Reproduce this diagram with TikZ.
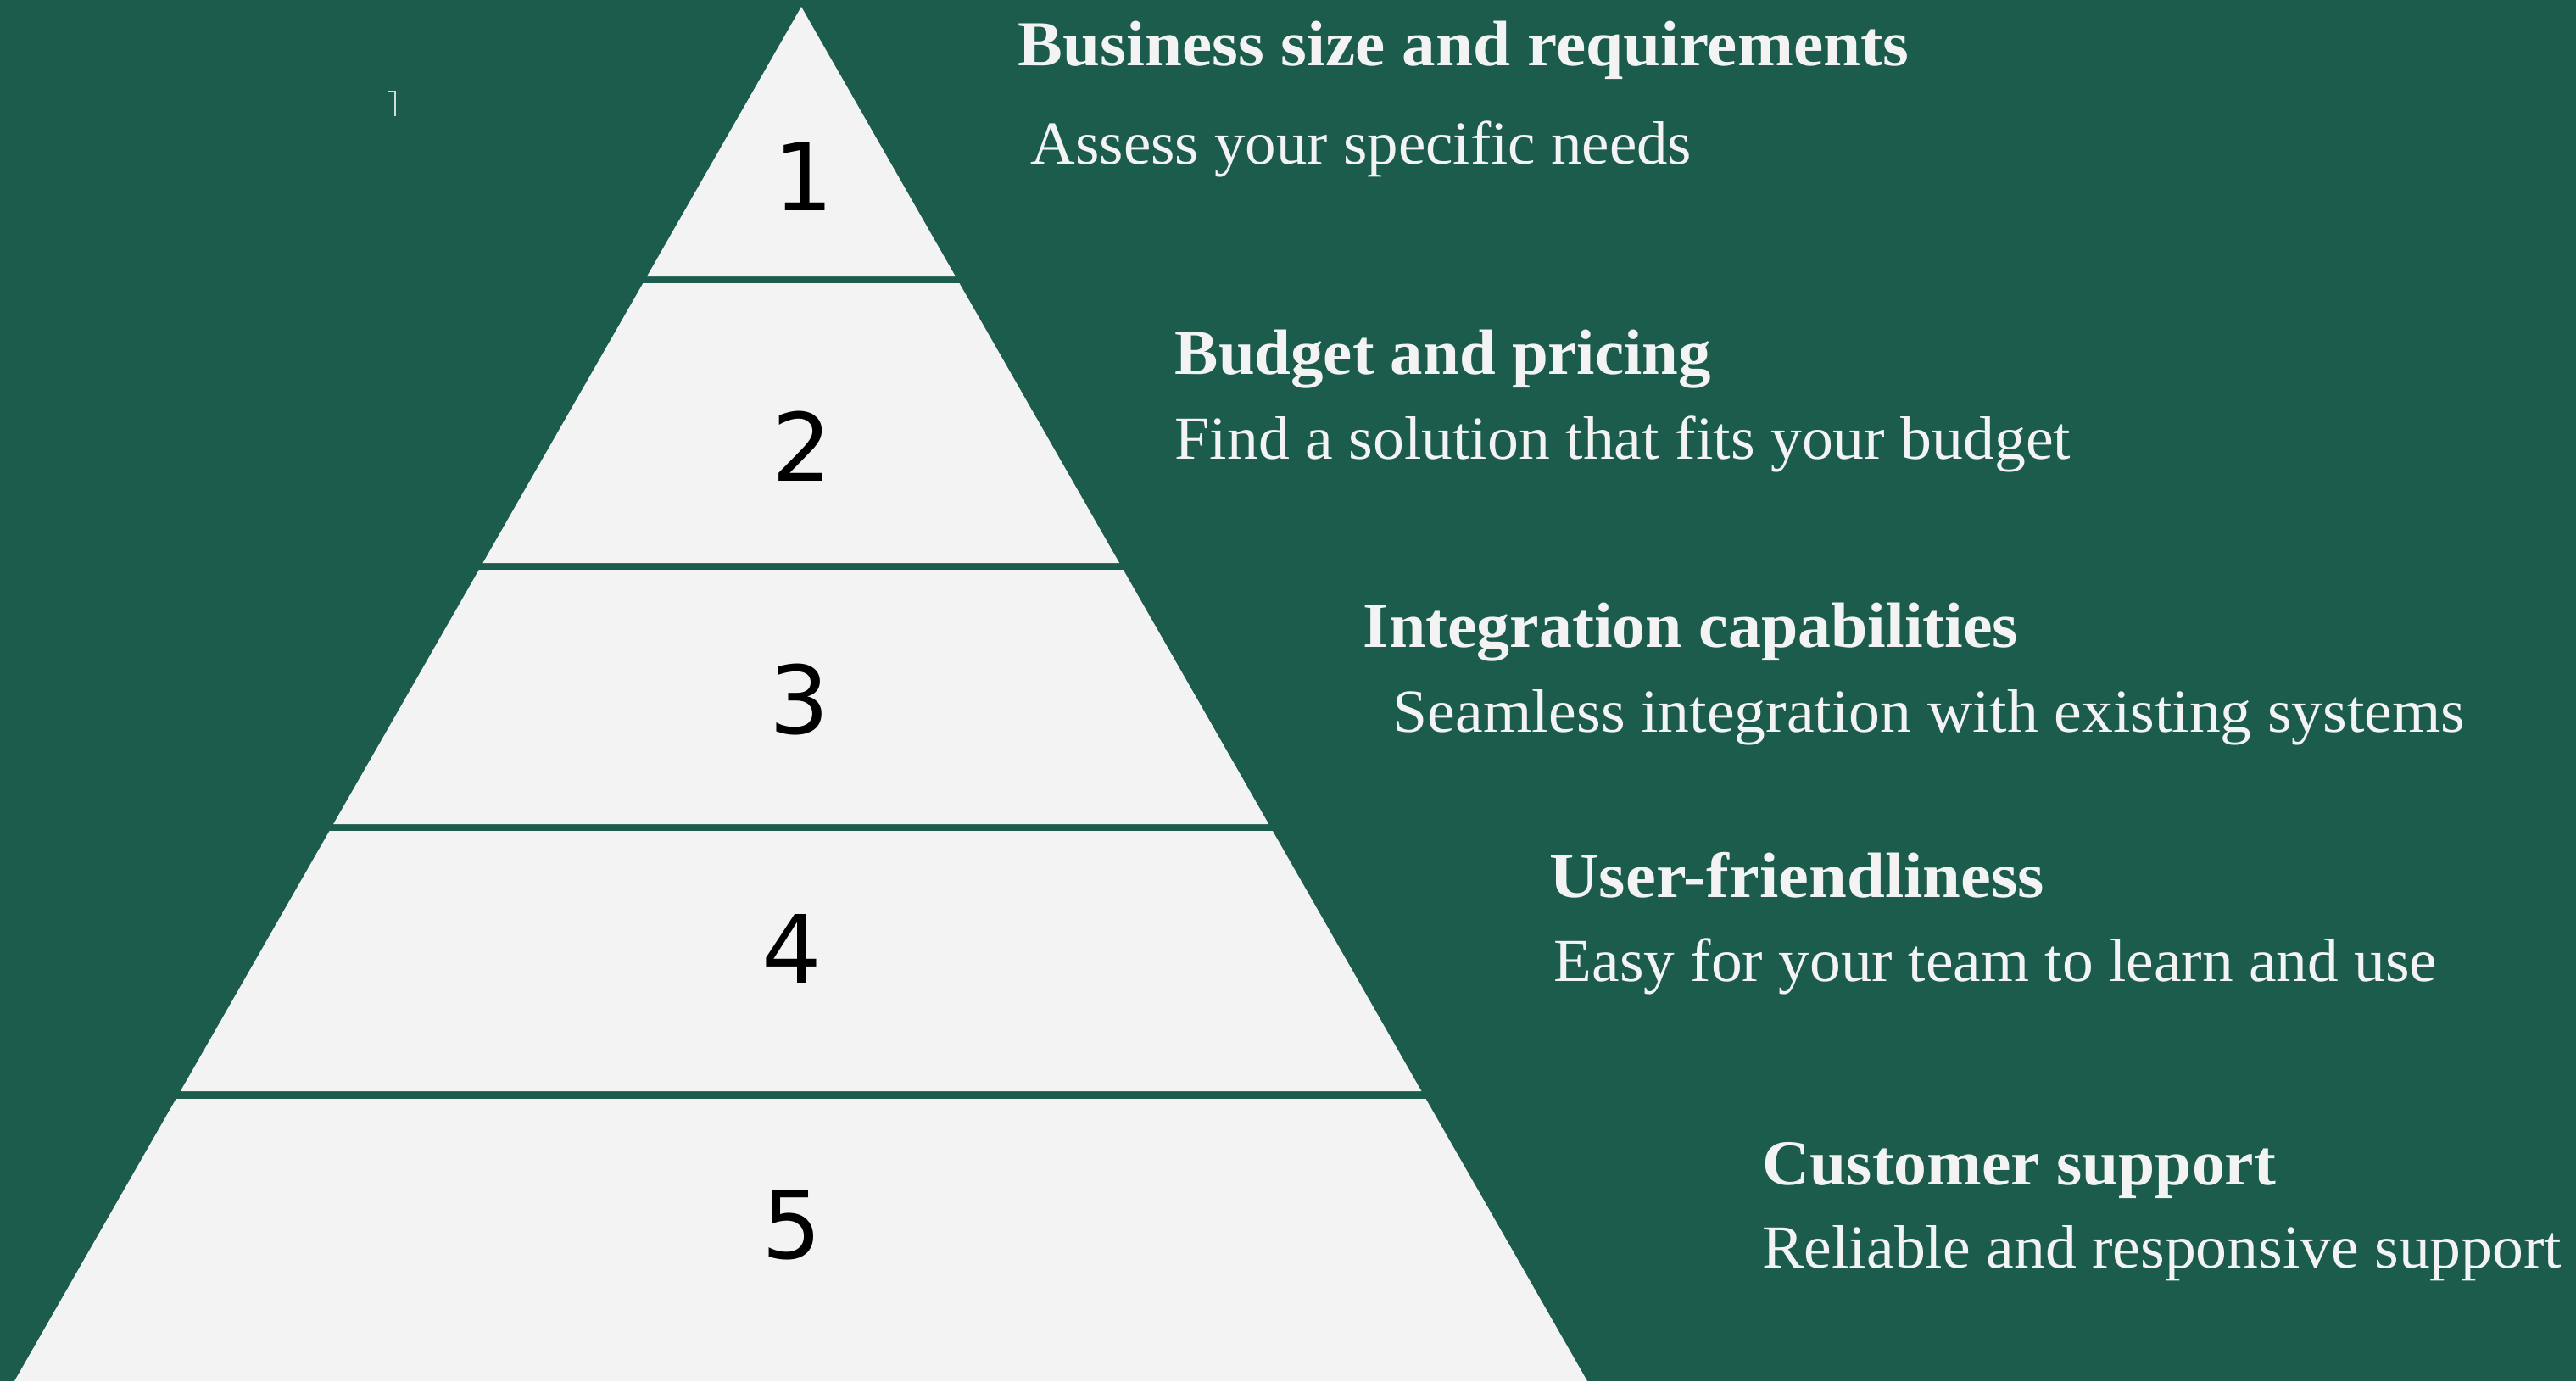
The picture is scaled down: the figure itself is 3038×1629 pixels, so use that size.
\documentclass[tikz,border=0pt]{standalone}
\usepackage{fontspec}
\setmainfont{Liberation Serif}
\newfontfamily\numfont{DejaVu Sans}
\usetikzlibrary{calc}
\definecolor{bg}{RGB}{27,92,77}
\definecolor{pale}{RGB}{243,243,243}
\newcommand\fitto[2]{\resizebox{#1}{\height}{#2}}
\begin{document}
\begin{tikzpicture}[x=0.01cm,y=-0.01cm,
  head/.style={anchor=base west, inner sep=0, text=pale, font=\fontsize{21.5pt}{25pt}\selectfont\bfseries},
  sub/.style={anchor=base west, inner sep=0, text=pale, font=\fontsize{20.5pt}{24pt}\selectfont},
  num/.style={anchor=base, inner sep=0, text=black, font=\numfont\fontsize{31.6pt}{36pt}\selectfont},
  tier/.style={fill=pale, draw=none}]
\fill[bg] (0,0) rectangle (3038,1629);
\useasboundingbox (0,0) rectangle (3038,1629);
\coordinate (A) at (945,8);
\coordinate (BL) at (17,1629);
\coordinate (BR) at (1872,1629);
% tiers
\fill[tier] (A) -- ($(A)!0.19618!(BR)$) -- ($(A)!0.19618!(BL)$) -- cycle;
\fill[tier] ($(A)!0.20111!(BL)$) -- ($(A)!0.20111!(BR)$) -- ($(A)!0.40469!(BR)$) -- ($(A)!0.40469!(BL)$) -- cycle;
\fill[tier] ($(A)!0.40962!(BL)$) -- ($(A)!0.40962!(BR)$) -- ($(A)!0.59469!(BR)$) -- ($(A)!0.59469!(BL)$) -- cycle;
\fill[tier] ($(A)!0.59963!(BL)$) -- ($(A)!0.59963!(BR)$) -- ($(A)!0.78902!(BR)$) -- ($(A)!0.78902!(BL)$) -- cycle;
\fill[tier] ($(A)!0.79457!(BL)$) -- ($(A)!0.79457!(BR)$) -- (BR) -- (BL) -- cycle;
% numbers
\node[num] (n1) at (948,248) {1};
\node[num] (n2) at (946,567) {2};
\node[num] (n3) at (943,865) {3};
\node[num] (n4) at (934,1159) {4};
\node[num] (n5) at (934,1484) {5};
% small stray mark
\draw[pale!85!bg, line width=0.8pt] (457,108) -- (466,108) -- (466,137);
% texts
\node[head] (h1) at (1200,77) {\fitto{10.50cm}{Business size and requirements}};
\node[sub]  (s1) at (1215,193) {\fitto{7.79cm}{Assess your specific needs}};
\node[head] (h2) at (1385,441) {\fitto{6.32cm}{Budget and pricing}};
\node[sub]  (s2) at (1385,541) {\fitto{10.56cm}{Find a solution that fits your budget}};
\node[head] (h3) at (1607,763) {\fitto{7.72cm}{Integration capabilities}};
\node[sub]  (s3) at (1642,863) {\fitto{12.64cm}{Seamless integration with existing systems}};
\node[head] (h4) at (1827,1058) {\fitto{5.83cm}{User-friendliness}};
\node[sub]  (s4) at (1832,1157) {\fitto{10.41cm}{Easy for your team to learn and use}};
\node[head] (h5) at (2078,1397) {\fitto{6.05cm}{Customer support}};
\node[sub]  (s5) at (2078,1495) {\fitto{9.42cm}{Reliable and responsive support}};
\end{tikzpicture}
\end{document}
